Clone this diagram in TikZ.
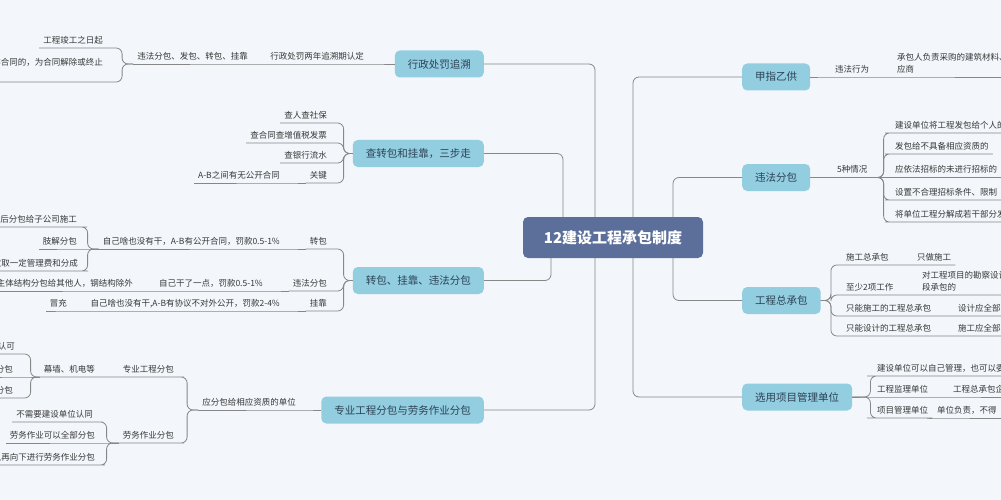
\documentclass[tikz,border=0pt]{standalone}
\usepackage{fontspec}
\setmainfont{Noto Sans CJK SC}
\definecolor{bgcol}{RGB}{243,247,251}
\definecolor{topicfill}{RGB}{146,205,224}
\definecolor{rootfill}{RGB}{92,111,154}
\definecolor{linecol}{RGB}{135,135,135}
\definecolor{textcol}{RGB}{55,55,55}
\definecolor{topictext}{RGB}{45,65,85}

\begin{document}
\begin{tikzpicture}[
		x=1pt, y=-1pt,
		link/.style={draw=linecol, line width=0.8pt, rounded corners=6pt},
		root/.style={fill=rootfill, rounded corners=5pt, text=white, font=\fontsize{15}{17}\selectfont\bfseries, minimum width=180pt, minimum height=41pt},
		topic/.style={fill=topicfill, rounded corners=5pt, text=topictext, font=\fontsize{10.5}{12}\selectfont, inner xsep=13pt, minimum height=27pt},
		leaf/.style={text=textcol, font=\fontsize{8.5}{12}\selectfont, inner xsep=4pt, inner ysep=3pt},
		lleaf/.style={leaf, text height=7.5pt, text depth=1.5pt, anchor=south east},
		rleaf/.style={leaf, text height=7.5pt, text depth=1.5pt, anchor=south west},
		mleaf/.style={leaf, align=left, inner ysep=3.5pt, anchor=south west},
	]
	\fill[bgcol] (0,0) rectangle (1001,500);
	\useasboundingbox (0,0) rectangle (1001,500);

	\node[root] (root) at (613,237.5) {12建设工程承包制度};

	\node[topic, anchor=east] (penalty) at (484,64) {行政处罚追溯};
	\node[topic, anchor=east] (check) at (484,153.5) {查转包和挂靠，三步走};
	\node[topic, anchor=east] (sublet) at (484,280.5) {转包、挂靠、违法分包};
	\node[topic, anchor=east] (special) at (484,410) {专业工程分包与劳务作业分包};
	\node[topic, anchor=west] (supply) at (742,77) {甲指乙供};
	\node[topic, anchor=west] (illegal) at (742,177.5) {违法分包};
	\node[topic, anchor=west] (general) at (742,300.5) {工程总承包};
	\node[topic, anchor=west] (manage) at (742,397) {选用项目管理单位};

	\draw[link] ([xshift=-18pt]root.north) |- (penalty.east);
	\draw[link] ([xshift=-50pt]root.north) |- (check.east);
	\draw[link] ([xshift=-62pt]root.south) |- (sublet.east);
	\draw[link] ([xshift=-18pt]root.south) |- (special.east);
	\draw[link] ([xshift=20pt]root.north) |- (supply.west);
	\draw[link] ([xshift=60pt]root.north) |- (illegal.west);
	\draw[link] ([xshift=60pt]root.south) |- (general.west);
	\draw[link] ([xshift=20pt]root.south) |- (manage.west);

	% 行政处罚追溯
	\node[lleaf] (p1) at (368,64) {行政处罚两年追溯期认定};
	\node[lleaf] (p2) at (252,64) {违法分包、发包、转包、挂靠};
	\node[lleaf] (p3) at (107,48) {工程竣工之日起};
	\node[lleaf, text depth=13pt] (p4) at (107,82) {存合同的，为合同解除或终止};
	\draw[link] (penalty.west) -- (p1.south east) -- (p1.south west) -- (p2.south east) -- (p2.south west);
	\foreach \n in {p3,p4}
		\draw[link] (p2.south west) -- ++(-11,0) |- (\n.south east) -- (\n.south west);

	% 查转包和挂靠
	\node[lleaf] (c1) at (331,123) {查人查社保};
	\node[lleaf] (c2) at (331,143) {查合同查增值税发票};
	\node[lleaf] (c3) at (331,163) {查银行流水};
	\node[lleaf] (c4) at (331,183) {关键};
	\node[lleaf] (c5) at (284,183) {A-B之间有无公开合同};
	\foreach \n in {c1,c2,c3,c4}
		\draw[link] (check.west) -- ++(-9,0) |- (\n.south east) -- (\n.south west);
	\draw[link] (c4.south west) -- (c5.south east) -- (c5.south west);

	% 转包、挂靠、违法分包
	\node[lleaf] (s1) at (331,249) {转包};
	\node[lleaf] (s2) at (284,249) {自己啥也没有干，A-B有公开合同，罚款0.5-1\%};
	\node[lleaf] (s3) at (81,227) {后分包给子公司施工};
	\node[lleaf] (s4) at (81,249) {肢解分包};
	\node[lleaf] (s5) at (82,271) {收取一定管理费和分成};
	\node[lleaf] (s6) at (331,291) {违法分包};
	\node[lleaf] (s7) at (267,291) {自己干了一点，罚款0.5-1\%};
	\node[lleaf] (s8) at (137,291) {主体结构分包给其他人，钢结构除外};
	\node[lleaf] (s9) at (331,311) {挂靠};
	\node[lleaf] (s10) at (284,311) {自己啥也没有干,A-B有协议不对外公开，罚款2-4\%};
	\node[lleaf] (s11) at (71,311) {冒充};
	\foreach \n in {s1,s6,s9}
		\draw[link] (sublet.west) -- ++(-9,0) |- (\n.south east) -- (\n.south west);
	\draw[link] (s1.south west) -- (s2.south east) -- (s2.south west);
	\foreach \n in {s3,s5}
		\draw[link] (s2.south west) -- ++(-11,0) |- (\n.south east) -- (\n.south west);
	\draw[link] (s2.south west) -- (s4.south east) -- (s4.south west);
	\draw[link] (s6.south west) -- (s7.south east) -- (s7.south west) -- (s8.south east) -- (s8.south west);
	\draw[link] (s9.south west) -- (s10.south east) -- (s10.south west) -- (s11.south east) -- (s11.south west);

	% 专业工程分包与劳务作业分包
	\node[lleaf] (w1) at (300,410) {应分包给相应资质的单位};
	\node[lleaf] (w2) at (178,377) {专业工程分包};
	\node[lleaf] (w3) at (99,377) {幕墙、机电等};
	\node[lleaf] (w4) at (19,354) {认可};
	\node[lleaf] (w5) at (17,377) {分包};
	\node[lleaf] (w6) at (17,398) {分包};
	\node[lleaf] (w7) at (178,443) {劳务作业分包};
	\node[lleaf] (w8) at (97,422) {不需要建设单位认同};
	\node[lleaf] (w9) at (99,443) {劳务作业可以全部分包};
	\node[lleaf] (w10) at (99,465) {以再向下进行劳务作业分包};
	\draw[link] (special.west) -- (w1.south east) -- (w1.south west);
	\draw[link] (w1.south west) -- ++(-11,0) |- (w2.south east) -- (w2.south west) -- (w3.south east) -- (w3.south west);
	\draw[link] (w1.south west) -- ++(-11,0) |- (w7.south east) -- (w7.south west);
	\foreach \n in {w4,w6}
		\draw[link] (w3.south west) -- ++(-9,0) |- (\n.south east) -- (\n.south west);
	\draw[link] (w3.south west) -- (w5.south east) -- (w5.south west);
	\foreach \n in {w8,w10}
		\draw[link] (w7.south west) -- ++(-12,0) |- (\n.south east) -- (\n.south west);
	\draw[link] (w7.south west) -- (w9.south east) -- (w9.south west);

	% 甲指乙供
	\node[rleaf] (j1) at (831,77) {违法行为};
	\node[mleaf] (j2) at (893,77) {承包人负责采购的建筑材料、\\应商};
	\draw[link] (supply.east) -- (j1.south west) -- (j1.south east) -- (j2.south west) -- (j2.south east);

	% 违法分包
	\node[rleaf] (v1) at (833,177.5) {5种情况};
	\node[rleaf] (v2) at (891,133) {建设单位将工程发包给个人的};
	\node[rleaf] (v3) at (891,154) {发包给不具备相应资质的};
	\node[rleaf] (v4) at (891,177.5) {应依法招标的未进行招标的};
	\node[rleaf] (v5) at (891,200) {设置不合理招标条件、限制};
	\node[rleaf] (v6) at (891,222) {将单位工程分解成若干部分发};
	\draw[link] (illegal.east) -- (v1.south west) -- (v1.south east);
	\foreach \n in {v2,v3,v5,v6}
		\draw[link] (v1.south east) -- ++(12,0) |- (\n.south west) -- (\n.south east);
	\draw[link] (v1.south east) -- (v4.south west) -- (v4.south east);

	% 工程总承包
	\node[rleaf] (g1) at (842,265) {施工总承包};
	\node[rleaf] (g2) at (913,265) {只做施工};
	\node[rleaf] (g3) at (842,295) {至少2项工作};
	\node[mleaf] (g4) at (918,295) {对工程项目的勘察设计\\段承包的};
	\node[rleaf] (g5) at (842,316) {只能施工的工程总承包};
	\node[rleaf] (g6) at (954,316) {设计应全部};
	\node[rleaf] (g7) at (842,336) {只能设计的工程总承包};
	\node[rleaf] (g8) at (954,336) {施工应全部};
	\foreach \n/\m in {g1/g2,g3/g4,g5/g6,g7/g8}
		\draw[link] (general.east) -- ++(10,0) |- (\n.south west) -- (\n.south east) -- (\m.south west) -- (\m.south east);

	% 选用项目管理单位
	\node[rleaf] (m1) at (873,376) {建设单位可以自己管理，也可以委};
	\node[rleaf] (m2) at (873,397) {工程监理单位};
	\node[rleaf] (m3) at (949,397) {工程总承包企};
	\node[rleaf] (m4) at (873,418) {项目管理单位};
	\node[rleaf] (m5) at (933,418) {单位负责，不得};
	\foreach \n in {m1,m4}
		\draw[link] (manage.east) -- ++(18,0) |- (\n.south west) -- (\n.south east);
	\draw[link] (manage.east) -- (m2.south west) -- (m2.south east) -- (m3.south west) -- (m3.south east);
	\draw[link] (m4.south east) -- (m5.south west) -- (m5.south east);
\end{tikzpicture}
\end{document}
